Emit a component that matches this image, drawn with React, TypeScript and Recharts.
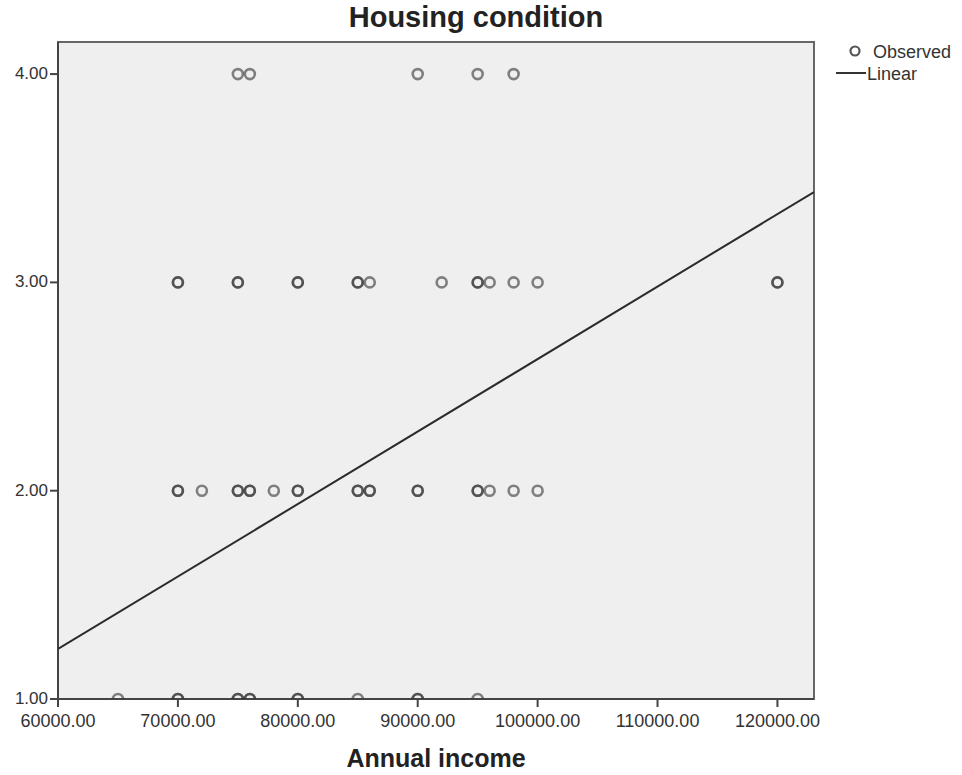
import { ScatterChart, Scatter, XAxis, YAxis, ReferenceArea, CartesianGrid, Legend } from 'recharts';

// annual income of respondents, grouped by housing condition score
const incomeAt4 = [75000, 76000, 90000, 95000, 98000];
const incomeAt3 = [70000, 70000, 75000, 75000, 80000, 80000, 85000, 85000, 86000, 92000, 95000, 95000, 96000, 98000, 100000, 120000, 120000];
const incomeAt2 = [70000, 70000, 72000, 75000, 75000, 76000, 76000, 78000, 80000, 80000, 85000, 85000, 86000, 86000, 90000, 90000, 95000, 95000, 96000, 98000, 100000];
const incomeAt1 = [65000, 70000, 70000, 75000, 75000, 76000, 76000, 80000, 80000, 85000, 90000, 90000, 95000];

// linear fit, read at the plot edges
const fitIncome = [60000, 123050];
const fitCondition = [1.24, 3.434];

const xDomain = [60000, 123050];
const yDomain = [1, 4.154];
const xTicks = [60000, 70000, 80000, 90000, 100000, 110000, 120000];
const yTicks = [1, 2, 3, 4];

const observed = [
  ...incomeAt4.map((x) => ({ x, y: 4 })),
  ...incomeAt3.map((x) => ({ x, y: 3 })),
  ...incomeAt2.map((x) => ({ x, y: 2 })),
  ...incomeAt1.map((x) => ({ x, y: 1 })),
];
const fit = fitIncome.map((x, i) => ({ x, y: fitCondition[i] }));

const font = '"Liberation Sans", Arial, sans-serif';

const Ring = (props: any) => (
  <circle cx={props.cx} cy={props.cy} r={5} fill="none" stroke="#333" strokeOpacity={0.6} strokeWidth={2.6} />
);

const LegendBox = () => (
  <svg width={132} height={50} style={{ fontFamily: font }}>
    <circle cx={25} cy={11} r={4.5} fill="none" stroke="#555" strokeWidth={2.2} />
    <text x={43} y={18} fontSize={18} fill="#333">Observed</text>
    <line x1={6} y1={33} x2={36} y2={33} stroke="#333" strokeWidth={2} />
    <text x={37} y={40} fontSize={18} fill="#333">Linear</text>
  </svg>
);

export default function App() {
  return (
    <div style={{ position: 'absolute', left: 0, top: 0, width: 962, height: 775, background: '#fff', fontFamily: font }}>
      <div style={{ position: 'absolute', top: 1, left: 0, width: 952, textAlign: 'center', fontWeight: 'bold', fontSize: 29, color: '#222' }}>
        Housing condition
      </div>
      <ScatterChart width={962} height={775} margin={{ top: 42, right: 148, bottom: 0, left: 0 }}>
        <CartesianGrid fill="#efefef" horizontal={false} vertical={false} />
        <ReferenceArea
          x1={xDomain[0]}
          x2={xDomain[1]}
          y1={yDomain[0]}
          y2={yDomain[1]}
          fill="none"
          stroke="#666"
          strokeWidth={2}
        />
        <XAxis
          type="number"
          dataKey="x"
          domain={xDomain}
          allowDataOverflow
          ticks={xTicks}
          tickFormatter={(v: number) => v.toFixed(2)}
          height={76}
          tickSize={8}
          axisLine={{ stroke: '#444', strokeWidth: 2 }}
          tickLine={{ stroke: '#444', strokeWidth: 2 }}
          tick={{ fill: '#333', fontSize: 18, fontFamily: font, dy: 5 }}
        />
        <YAxis
          type="number"
          dataKey="y"
          domain={yDomain}
          allowDataOverflow
          ticks={yTicks}
          tickFormatter={(v: number) => v.toFixed(2)}
          width={58}
          tickSize={8}
          axisLine={{ stroke: '#444', strokeWidth: 2 }}
          tickLine={{ stroke: '#444', strokeWidth: 2 }}
          tick={{ fill: '#333', fontSize: 17, fontFamily: font, dy: -1 }}
        />
        <Legend
          layout="vertical"
          align="center"
          verticalAlign="middle"
          content={() => <LegendBox />}
          wrapperStyle={{ position: 'absolute', left: 830, top: 40, width: 132 }}
        />
        <Scatter name="Observed" data={observed} shape={Ring} isAnimationActive={false} />
        <Scatter
          name="Linear"
          data={fit}
          line={{ stroke: '#2b2b2b', strokeWidth: 2 }}
          shape={() => <g />}
          isAnimationActive={false}
        />
      </ScatterChart>
      <div style={{ position: 'absolute', top: 744, left: 0, width: 872, textAlign: 'center', fontWeight: 'bold', fontSize: 25, color: '#222' }}>
        Annual income
      </div>
    </div>
  );
}
